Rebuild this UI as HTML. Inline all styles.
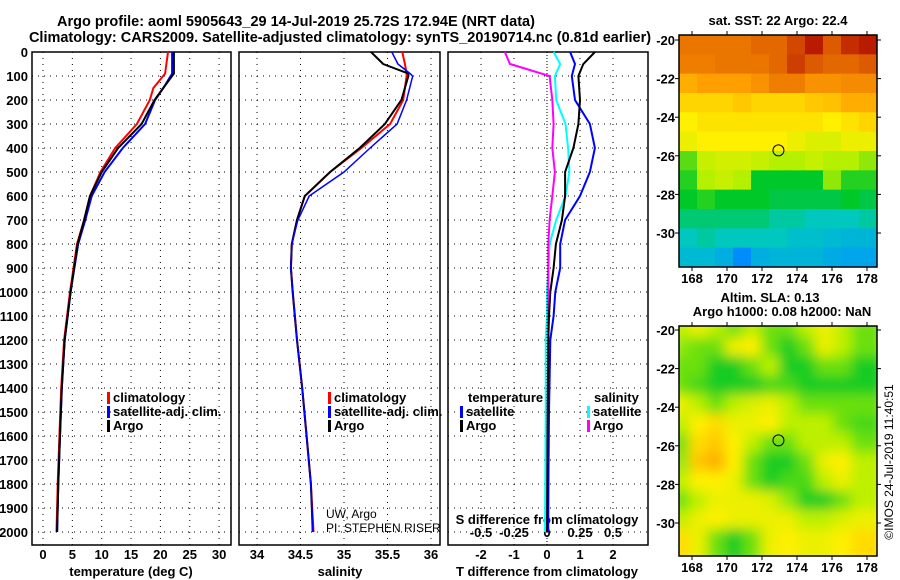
<!DOCTYPE html>
<html><head><meta charset="utf-8"><style>
body{margin:0;background:#fff;}
svg{display:block;font-family:"Liberation Sans",sans-serif;font-weight:bold;}
</style></head><body>
<svg id="fig" width="900" height="580" xmlns="http://www.w3.org/2000/svg">
<rect width="900" height="580" fill="#fff"/>
<text x="296" y="26" font-size="14.5" text-anchor="middle">Argo profile: aoml 5905643_29 14-Jul-2019 25.72S 172.94E (NRT data)</text>
<text x="340" y="42" font-size="14.5" text-anchor="middle">Climatology: CARS2009. Satellite-adjusted climatology: synTS_20190714.nc (0.81d earlier)</text>
<g id="g"></g>
</svg>
<script>
// ---- data ----
const depthT=[0,90,150,200,300,400,500,600,700,800,1000,1200,1400,1600,1800,2000];
const tempClim=[21.3,20.8,18.8,18.2,16.0,12.3,9.8,8.0,7.0,5.8,4.6,3.6,3.1,2.8,2.5,2.3];
const tempSat=[22.0,22.0,20.5,19.1,17.4,13.6,10.5,8.3,7.2,6.0,4.7,3.7,3.2,2.9,2.6,2.4];
const tempArgo=[22.3,22.3,20.5,19.0,16.8,12.8,10.0,8.0,7.0,5.9,4.7,3.7,3.2,2.9,2.6,2.4];
const depthS=[0,50,90,100,200,300,400,500,600,700,800,900,1000,1200,1400,1600,1800,2000];
const salClim=[35.67,35.70,35.72,35.72,35.68,35.53,35.20,34.84,34.55,34.46,34.40,34.39,34.41,34.46,34.52,34.57,34.62,34.65];
const salSat=[35.55,35.62,35.76,35.79,35.72,35.61,35.30,35.00,34.60,34.47,34.40,34.39,34.41,34.46,34.52,34.57,34.62,34.64];
const salArgo=[35.31,35.45,35.74,35.74,35.66,35.47,35.18,34.84,34.55,34.46,34.40,34.39,34.41,34.46,34.52,34.57,34.62,34.64];
const depthD=[0,50,100,200,300,400,500,600,700,800,900,1000,1100,1200,1500,2000];
const dTsat=[0.70,0.85,0.75,0.85,1.30,1.45,1.30,1.00,0.55,0.40,0.40,0.25,0.20,0.10,0.06,0.03];
const dTargo=[1.45,1.10,0.95,1.00,0.95,0.80,0.55,0.55,0.45,0.27,0.20,0.10,0.06,0.04,0.02,0.0];
const dSsat=[0.05,0.10,0.06,0.07,0.14,0.16,0.17,0.14,0.07,0.02,0.01,0.0,0.0,-0.01,-0.01,-0.015];
const dSargo=[-0.32,-0.28,0.02,0.04,0.05,0.04,0.06,0.04,0.02,0.01,0.01,0.01,0.01,0.01,0.01,0.01];
const tTicks=[0,5,10,15,20,25,30];
const sTicks=[34,34.5,35,35.5,36];
const dTicksT=[-2,-1,0,1,2];
const dTicksS=[-0.5,-0.25,0,0.25,0.5];
const depthTicks=[0,100,200,300,400,500,600,700,800,900,1000,1100,1200,1300,1400,1500,1600,1700,1800,1900,2000];
const lonTicks=[168,170,172,174,176,178];
const latTicks=[-20,-22,-24,-26,-28,-30];
const sstGrid=[
[.86,.86,.86,.86,.88,.88,.92,.97,.9,.95,.97],
[.85,.85,.86,.86,.86,.88,.93,.9,.88,.88,.9],
[.78,.8,.8,.8,.82,.85,.85,.82,.82,.83,.83],
[.72,.72,.72,.74,.72,.72,.72,.74,.75,.78,.78],
[.68,.7,.7,.7,.7,.7,.7,.7,.68,.7,.72],
[.66,.68,.68,.68,.68,.68,.66,.64,.64,.66,.66],
[.55,.62,.63,.63,.62,.6,.6,.62,.6,.6,.58],
[.52,.6,.62,.6,.5,.5,.5,.5,.58,.52,.52],
[.5,.52,.5,.5,.5,.48,.48,.48,.48,.5,.48],
[.45,.45,.45,.45,.45,.42,.42,.4,.4,.4,.42],
[.4,.42,.4,.4,.4,.4,.38,.38,.37,.36,.36],
[.37,.37,.35,.28,.35,.36,.36,.36,.34,.33,.33]];
const slaGrid=[
[.61,.66,.61,.56,.61,.56,.56,.61,.66,.61,.56],
[.58,.56,.56,.66,.68,.56,.51,.56,.66,.61,.56],
[.56,.56,.51,.51,.56,.61,.51,.51,.56,.56,.51],
[.56,.54,.51,.51,.51,.54,.54,.51,.51,.51,.51],
[.66,.61,.56,.61,.64,.66,.61,.56,.56,.56,.56],
[.61,.68,.71,.66,.66,.68,.61,.61,.61,.56,.54],
[.56,.71,.74,.68,.61,.56,.56,.61,.61,.61,.56],
[.58,.74,.78,.68,.56,.51,.51,.56,.66,.68,.61],
[.61,.68,.68,.66,.56,.51,.54,.54,.61,.66,.61],
[.56,.61,.66,.66,.66,.64,.58,.51,.51,.56,.61],
[.61,.66,.68,.66,.66,.66,.66,.61,.61,.64,.66],
[.71,.66,.56,.51,.56,.66,.68,.66,.66,.68,.71]];
// ---- helpers ----
const NS="http://www.w3.org/2000/svg";const G=document.getElementById('g');
function mk(t,a,p){const e=document.createElementNS(NS,t);for(const k in a)e.setAttribute(k,a[k]);(p||G).appendChild(e);return e;}
const yD=d=>52+d*0.24;
const xT=v=>43+v*5.87;
const xS=v=>257+(v-34)*87;
const xDT=v=>547+v*33;
const xDS=v=>547+v*132;
const PT=52,PB=545;
const panels=[[32,231],[239,440],[448,648]];
panels.forEach((p,i)=>{
  const r=mk('rect',{x:p[0],y:PT,width:p[1]-p[0],height:PB-PT,fill:'none',stroke:'#000','stroke-width':1.5});
  
  
  depthTicks.forEach(d=>{const l=mk('line',{x1:p[0],x2:p[1],y1:yD(d),y2:yD(d),stroke:'#000','stroke-dasharray':'1,5'});
  });
});
depthTicks.forEach(d=>{const t=mk('text',{x:28,y:yD(d)+5,'font-size':13,'text-anchor':'end'});t.textContent=d;
});
function vgrid(ticks,fx,p,ly,fmt){ticks.forEach(v=>{const l=mk('line',{x1:fx(v),x2:fx(v),y1:PT,y2:PB,stroke:'#000','stroke-dasharray':'1,5'});

if(ly){const t=mk('text',{x:fx(v),y:ly,'font-size':13,'text-anchor':'middle'});t.textContent=fmt?fmt(v):v;
}});}
vgrid(tTicks,xT,0,559);vgrid(sTicks,xS,1,559);vgrid(dTicksT,xDT,2,559);
dTicksS.forEach(v=>{const t=mk('text',{x:xDS(v),y:537,'font-size':13,'text-anchor':'middle'});t.textContent=v;
});
function lbl(x,y,s,n,fs,anc){const t=mk('text',{x:x,y:y,'font-size':fs||13,'text-anchor':anc||'middle'});t.textContent=s;
return t;}
lbl(131,576,'temperature (deg C)','x-axis-title-temperature');
lbl(340,576,'salinity','x-axis-title-salinity');
lbl(547,576,'T difference from climatology','x-axis-title-t-diff');
lbl(547,524,'S difference from climatology','x-axis-title-s-diff');
function line(xs,ds,fx,col,name,w){const pts=xs.map((v,i)=>fx(v).toFixed(1)+','+yD(ds[i]).toFixed(1)).join(' ');
const e=mk('polyline',{points:pts,fill:'none',stroke:col,'stroke-width':w||2});
}
line(tempClim,depthT,xT,'#f00','temp-climatology-line');
line(tempSat,depthT,xT,'#00f','temp-satellite-line');
line(tempArgo,depthT,xT,'#000','temp-argo-line');
line(salClim,depthS,xS,'#f00','sal-climatology-line');
line(salArgo,depthS,xS,'#000','sal-argo-line');
line(salSat,depthS,xS,'#00f','sal-satellite-line',1.5);
line(dSsat,depthD,xDS,'#0ff','s-diff-satellite-line');
line(dSargo,depthD,xDS,'#f0f','s-diff-argo-line');
line(dTsat,depthD,xDT,'#00f','t-diff-satellite-line');
line(dTargo,depthD,xDT,'#000','t-diff-argo-line');
mk('line',{x1:547,x2:547,y1:PT,y2:PB,stroke:'#000','stroke-dasharray':'1,2'});
function leg(x,y,col,s,n){const r=mk('rect',{x:x,y:y-10,width:3,height:12,fill:col});
const t=lbl(x+6,y,s,n,13,'start');}
leg(107,402,'#f00','climatology','legend-climatology');
leg(107,416,'#00f','satellite-adj. clim.','legend-satellite-adj');
leg(107,430,'#000','Argo','legend-argo');
leg(328,402,'#f00','climatology','legend2-climatology');
leg(328,416,'#00f','satellite-adj. clim.','legend2-satellite-adj');
leg(328,430,'#000','Argo','legend2-argo');
lbl(468,402,'temperature','legend-temperature-heading',13,'start');
leg(460,416,'#00f','satellite','legend-t-satellite');
leg(460,430,'#000','Argo','legend-t-argo');
lbl(594,402,'salinity','legend-salinity-heading',13,'start');
leg(587,416,'#0ff','satellite','legend-s-satellite');
leg(587,430,'#f0f','Argo','legend-s-argo');
const c1=lbl(326,518,'UW, Argo','pi-institution',12,'start');c1.setAttribute('font-weight','normal');
const c2=lbl(326,532,'PI: STEPHEN RISER','pi-name',12,'start');c2.setAttribute('font-weight','normal');
// ---- maps ----
function cmap(v){const stops=[[0,[0,0,200]],[.3,[0,150,255]],[.4,[0,200,190]],[.5,[0,200,40]],[.6,[180,240,0]],[.68,[255,240,0]],[.8,[255,160,0]],[.9,[220,90,0]],[1,[170,0,0]]];
for(let i=1;i<stops.length;i++){if(v<=stops[i][0]){const a=stops[i-1],b=stops[i],t=(v-a[0])/(b[0]-a[0]);return 'rgb('+a[1].map((c,k)=>Math.round(c+(b[1][k]-c)*t)).join(',')+')';}}return 'rgb(170,0,0)';}
function map(grid,L,R,T,B,lat20,name,blur){
  const gg=mk('g',{});
  const cp='cp'+name;const d=mk('defs',{},gg);const c=mk('clipPath',{id:cp},d);mk('rect',{x:L,y:T,width:R-L,height:B-T},c);
  if(blur){const f=mk('filter',{id:'f'+name},d);mk('feGaussianBlur',{stdDeviation:6},f);}
  const inner=mk('g',{'clip-path':'url(#'+cp+')'},gg);const g2=mk('g',blur?{filter:'url(#f'+name+')'}:{},inner);
  const nr=grid.length,nc=grid[0].length,w=(R-L)/nc,h=(B-T)/nr;
  grid.forEach((row,i)=>row.forEach((v,j)=>{mk('rect',{x:L+j*w-(blur?8:0),y:T+i*h-(blur?8:0),width:w+(blur?16:1),height:h+(blur?16:1),fill:cmap(v)},g2);}));
  mk('rect',{x:L,y:T,width:R-L,height:B-T,fill:'none',stroke:'#000','stroke-width':1.5},gg);
  const xl=v=>692+(v-168)*17.5, yl=v=>lat20+(-20-v)*19.3;
  lonTicks.forEach(v=>{mk('line',{x1:xl(v),x2:xl(v),y1:T-4,y2:T,stroke:'#000'},gg);mk('line',{x1:xl(v),x2:xl(v),y1:B,y2:B+4,stroke:'#000'},gg);
    const t=lbl(xl(v),B+16,v,'lon-tick-label');});
  latTicks.forEach(v=>{mk('line',{x1:L-4,x2:L,y1:yl(v),y2:yl(v),stroke:'#000'},gg);mk('line',{x1:R,x2:R+4,y1:yl(v),y2:yl(v),stroke:'#000'},gg);
    lbl(L-4,yl(v)+5,v,'lat-tick-label',13,'end');});
  const m=mk('circle',{cx:xl(172.94),cy:yl(-25.72),r:5.5,fill:'none',stroke:'#000','stroke-width':1},gg);
  
}
map(sstGrid,679,877,35,267,40,'sst-map',false);
map(slaGrid,679,877,326,556,330,'sla-map',true);
lbl(778,25,'sat. SST: 22 Argo: 22.4','sst-map-title');
lbl(770,302,'Altim. SLA: 0.13','sla-map-title-1');
lbl(782,316,'Argo h1000: 0.08 h2000: NaN','sla-map-title-2');
const im=lbl(0,0,'©IMOS 24-Jul-2019 11:40:51','imos-credit',12,'middle');
im.setAttribute('font-weight','normal');im.setAttribute('transform','translate(893,462) rotate(-90)');
</script>
</body></html>
